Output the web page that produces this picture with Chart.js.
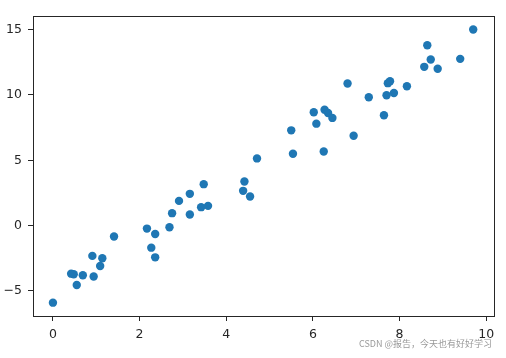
<!DOCTYPE html>
<html>
<head>
<meta charset="utf-8">
<script src="https://cdn.jsdelivr.net/npm/chart.js@4/dist/chart.umd.min.js"></script>
<style>
  html, body { margin: 0; padding: 0; background: #fff; }
  #wrap { width: 506px; height: 358px; position: relative; }
</style>
</head>
<body>
<div id="wrap"><canvas id="c" width="506" height="358"></canvas></div>
<script>
const xValues = [0.0, 0.42, 0.48, 0.69, 0.55, 0.91, 0.94, 1.14, 1.09, 1.41,
  2.17, 2.27, 2.36, 2.36, 2.69, 2.75, 2.91, 3.16, 3.16, 3.48,
  3.42, 3.58, 4.42, 4.39, 4.55, 4.71, 5.50, 5.54, 6.02, 6.08,
  6.25, 6.27, 6.35, 6.45, 6.80, 6.94, 7.29, 7.64, 7.70, 7.73,
  7.78, 7.87, 8.17, 8.57, 8.64, 8.72, 8.88, 9.40, 9.70];
const yValues = [-5.9, -3.68, -3.72, -3.8, -4.55, -2.32, -3.9, -2.5, -3.09, -0.84,
  -0.23, -1.69, -0.64, -2.43, -0.13, 0.95, 1.89, 2.43, 0.85, 3.17,
  1.41, 1.51, 3.37, 2.66, 2.22, 5.14, 7.29, 5.5, 8.67, 7.8,
  5.67, 8.87, 8.62, 8.24, 10.87, 6.88, 9.82, 8.44, 9.97, 10.9,
  11.05, 10.15, 10.66, 12.15, 13.8, 12.71, 12.0, 12.76, 15.01];
const xTicks = [0, 2, 4, 6, 8, 10];
const yTicks = [-5, 0, 5, 10, 15];
const watermark = "CSDN @报告，今天也有好好学习";

const points = xValues.map((x, i) => ({ x: x, y: yValues[i] }));

const framePlugin = {
  id: 'frame',
  afterDraw(chart) {
    const a = chart.chartArea, ctx = chart.ctx;
    ctx.save();
    ctx.strokeStyle = '#262626';
    ctx.lineWidth = 1;
    ctx.strokeRect(Math.round(a.left) + 0.5, Math.round(a.top) + 0.5,
      Math.round(a.right - a.left), Math.round(a.bottom - a.top));
    ctx.font = '9px "Noto Sans CJK SC", "DejaVu Sans", sans-serif';
    ctx.fillStyle = '#999';
    ctx.textAlign = 'right';
    ctx.textBaseline = 'middle';
    ctx.fillText(watermark, 492, 344);
    ctx.restore();
  }
};

new Chart(document.getElementById('c'), {
  type: 'scatter',
  data: {
    datasets: [{
      data: points,
      backgroundColor: '#1f77b4',
      borderWidth: 0,
      pointRadius: 4.2,
      pointHoverRadius: 4.2
    }]
  },
  options: {
    responsive: false,
    animation: false,
    layout: { padding: { top: 16, right: 12, left: 0, bottom: 0 } },
    plugins: { legend: { display: false }, tooltip: { enabled: false } },
    scales: {
      x: {
        type: 'linear',
        min: -0.46,
        max: 10.18,
        afterBuildTicks(scale) { scale.ticks = xTicks.map(v => ({ value: v })); },
        afterFit(scale) { scale.height = 42; },
        border: { display: false },
        grid: { drawOnChartArea: false, drawTicks: true, tickLength: 5, color: '#262626', tickWidth: 1 },
        ticks: { color: '#262626', font: { family: 'DejaVu Sans', size: 12.5 }, padding: 6, maxRotation: 0 }
      },
      y: {
        type: 'linear',
        min: -6.92,
        max: 16.04,
        afterBuildTicks(scale) { scale.ticks = yTicks.map(v => ({ value: v })); },
        afterFit(scale) { scale.width = 33; },
        border: { display: false },
        grid: { drawOnChartArea: false, drawTicks: true, tickLength: 5, color: '#262626', tickWidth: 1 },
        ticks: {
          color: '#262626', font: { family: 'DejaVu Sans', size: 12.5 }, padding: 6,
          callback: v => (v < 0 ? '\u2212' + Math.abs(v) : String(v))
        }
      }
    }
  },
  plugins: [framePlugin]
});
</script>
</body>
</html>
